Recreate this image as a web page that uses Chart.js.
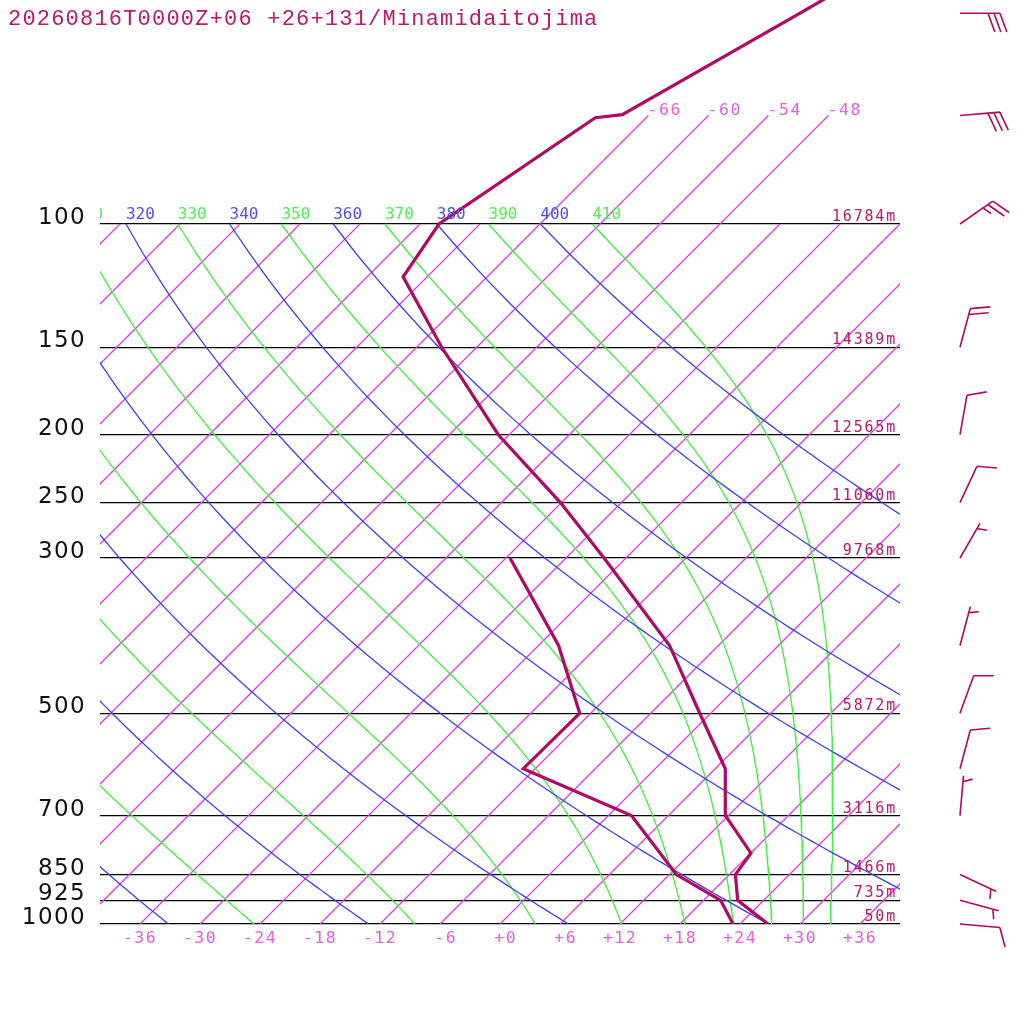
<!DOCTYPE html>
<html>
<head>
<meta charset="utf-8">
<script src="https://cdn.jsdelivr.net/npm/chart.js@4.4.1/dist/chart.umd.min.js"></script>
<style>
  html, body { margin: 0; padding: 0; background: #fff; }
  canvas { display: block; }
</style>
</head>
<body>
<canvas id="skewt" width="1024" height="1024"></canvas>
<script>
// sounding (hPa, degC)
const tempPres = [1000, 925, 850, 792, 700, 600, 500, 400, 300, 250, 200, 150, 119, 100, 70.5, 69.8, 50, 40];
const tempC    = [26.8, 21.4, 18.6, 18.0, 11.7, 7.0, -1.1, -10.9, -26.2, -36.1, -49.1, -63.5, -74.4, -76.1, -71.1, -68.7, -61.1, -56.1];
const dewPres  = [1000, 925, 850, 700, 600, 500, 400, 300];
const dewC     = [23.3, 19.7, 12.7, 2.3, -13.2, -13.1, -22.0, -35.6];

// standard levels and their heights
const levelPres   = [100, 150, 200, 250, 300, 500, 700, 850, 925, 1000];
const levelHeight = ['16784m', '14389m', '12565m', '11060m', '9768m', '5872m', '3116m', '1466m', '735m', '50m'];

// winds (direction deg, speed kt)
const windPres = [1000, 925, 850, 700, 600, 500, 400, 300, 250, 200, 150, 100, 70, 50];
const windDir  = [95, 105, 115, 5, 15, 20, 15, 30, 25, 10, 15, 55, 85, 90];
const windKt   = [10, 5, 5, 5, 10, 10, 5, 5, 10, 10, 20, 25, 30, 30];

// axis / background line labels
const xTicks = [-36, -30, -24, -18, -12, -6, 0, 6, 12, 18, 24, 30, 36];
const isoTemps = [-108, -102, -96, -90, -84, -78, -72, -66, -60, -54, -48, -42, -36, -30, -24, -18, -12, -6, 0, 6, 12, 18, 24, 30, 36];
const isoTop = [-66, -60, -54, -48];
const dryTheta = [240, 260, 280, 300, 320, 340, 360, 380, 400];
const moistTheta = [250, 270, 290, 310, 330, 350, 370, 390, 410];

const title = '20260816T0000Z+06 +26+131/Minamidaitojima';

const SKEW = 70;               // degC per decade of pressure
const PTOP = 1000 / Math.pow(10, 924 / 700);
const KAPPA = 0.2857;

const profColor = '#b00864';
const isoColor = '#e040e0';
const dryColor = '#4040f0';
const moistColor = '#40f040';

function skewX(t, p) {
  return t + SKEW * Math.log10(1000 / p);
}

function isotherm(t) {
  let top = isoTop.includes(t) ? 70 : 100;
  return [{x: skewX(t, 1000), y: 1000}, {x: skewX(t, top), y: top}];
}

function dryAdiabat(theta) {
  let pts = [];
  for (let p = 100; p <= 1000; p += 10) {
    let t = theta * Math.pow(p / 1000, KAPPA) - 273.15;
    pts.push({x: skewX(t, p), y: p});
  }
  return pts;
}

// pseudo-adiabat, started at 100 hPa and followed down
function moistAdiabat(theta) {
  const Rd = 287.04, cp = 1005.7, L = 2.501e6, eps = 0.622;
  let f = function(T, p) {
    let tc = T - 273.15;
    let es = 6.112 * Math.exp(17.67 * tc / (tc + 243.5));
    let rs = eps * es / (p - es);
    return ((Rd * T + L * rs) / p) / (cp + L * L * rs * eps / (Rd * T * T));
  };
  let T = theta * Math.pow(0.1, KAPPA);
  let pts = [];
  let h = 2;
  for (let p = 100; p <= 1000; p += h) {
    if (p % 10 === 0) pts.push({x: skewX(T - 273.15, p), y: p});
    let k1 = f(T, p);
    let k2 = f(T + h / 2 * k1, p + h / 2);
    let k3 = f(T + h / 2 * k2, p + h / 2);
    let k4 = f(T + h * k3, p + h);
    T += h / 6 * (k1 + 2 * k2 + 2 * k3 + k4);
  }
  return pts;
}

function line(data, color, width, order) {
  return {
    data: data, showLine: true,
    borderColor: color, backgroundColor: color,
    borderWidth: width, pointRadius: 0, fill: false, tension: 0, order: order, borderJoinStyle: 'miter'
  };
}

let datasets = [];
datasets.push(line(tempPres.map((p, i) => ({x: skewX(tempC[i], p), y: p})), profColor, 3.2, 0));
datasets.push(line(dewPres.map((p, i) => ({x: skewX(dewC[i], p), y: p})), profColor, 3.2, 0));
dryTheta.forEach(th => datasets.push(line(dryAdiabat(th), dryColor, 1.3, 10)));
moistTheta.forEach(th => datasets.push(line(moistAdiabat(th), moistColor, 1.3, 10)));
isoTemps.forEach(t => datasets.push(line(isotherm(t), isoColor, 1.3, 20)));

let skewPlugin = {
  id: 'skewt',
  beforeDraw(chart) {
    chart.ctx.letterSpacing = '1.4px';
  },
  afterDatasetsDraw(chart) {
    let ctx = chart.ctx, area = chart.chartArea;
    let xs = chart.scales.x, ys = chart.scales.y;
    ctx.save();
    ctx.textBaseline = 'alphabetic';

    // heights on the right of each level
    ctx.font = '15px "DejaVu Sans Mono"';
    ctx.letterSpacing = '1.8px';
    ctx.fillStyle = 'rgb(184,24,112)';
    ctx.textAlign = 'right';
    levelPres.forEach((p, i) => {
      ctx.fillText(levelHeight[i], 897, ys.getPixelForValue(p) - 3);
    });

    // isotherm labels above 100 hPa
    ctx.font = '16.5px "DejaVu Sans Mono"';
    ctx.letterSpacing = '1.6px';
    ctx.fillStyle = 'rgb(226,96,226)';
    ctx.textAlign = 'left';
    isoTop.forEach(t => {
      let px = xs.getPixelForValue(skewX(t, 70));
      let py = ys.getPixelForValue(70);
      ctx.fillText(String(t), px - 1, py - 1);
    });

    // theta labels along 100 hPa
    ctx.beginPath();
    ctx.rect(area.left, 0, area.right - area.left, area.bottom);
    ctx.clip();
    ctx.font = '16px "DejaVu Sans Mono"';
    ctx.letterSpacing = '0px';
    let y100 = ys.getPixelForValue(100) - 5;
    dryTheta.concat(moistTheta).forEach(th => {
      let t = th * Math.pow(0.1, KAPPA) - 273.15;
      ctx.fillStyle = dryTheta.includes(th) ? 'rgb(80,80,240)' : 'rgb(80,240,80)';
      ctx.fillText(String(th), xs.getPixelForValue(skewX(t, 100)), y100);
    });
    ctx.restore();
  },
  afterDraw(chart) {
    let ctx = chart.ctx, ys = chart.scales.y;
    ctx.save();
    // title
    ctx.font = '22px "Liberation Mono"';
    ctx.letterSpacing = '1.2px';
    ctx.fillStyle = 'rgb(184,24,112)';
    ctx.textAlign = 'left';
    ctx.textBaseline = 'alphabetic';
    ctx.fillText(title, 8, 25);

    // wind barbs
    ctx.letterSpacing = '0px';
    ctx.strokeStyle = profColor;
    ctx.lineWidth = 1.6;
    ctx.lineCap = 'butt';
    windPres.forEach((p, i) => {
      let bx = 960, by = ys.getPixelForValue(p);
      let a = (windDir[i] - 90) * Math.PI / 180;   // screen angle of the staff
      let ux = Math.cos(a), uy = Math.sin(a);
      let fa = a + 70 * Math.PI / 180;
      let fx = Math.cos(fa), fy = Math.sin(fa);
      let len = 40;
      ctx.beginPath();
      ctx.moveTo(bx, by);
      ctx.lineTo(bx + ux * len, by + uy * len);
      let spd = windKt[i];
      let d = len;
      let full = Math.floor(spd / 10), half = (spd % 10) >= 5 ? 1 : 0;
      if (full === 0 && half) d = len - 6;
      for (let k = 0; k < full; k++) {
        let sx = bx + ux * d, sy = by + uy * d;
        ctx.moveTo(sx, sy);
        ctx.lineTo(sx + fx * 20, sy + fy * 20);
        d -= 6;
      }
      if (half) {
        let sx = bx + ux * d, sy = by + uy * d;
        ctx.moveTo(sx, sy);
        ctx.lineTo(sx + fx * 10, sy + fy * 10);
      }
      ctx.stroke();
    });
    ctx.restore();
  }
};

new Chart(document.getElementById('skewt'), {
  type: 'scatter',
  data: { datasets: datasets },
  options: {
    responsive: false,
    animation: false,
    devicePixelRatio: 1,
    layout: { padding: { left: 0, right: 124, top: 0, bottom: 0 } },
    plugins: { legend: { display: false }, tooltip: { enabled: false } },
    scales: {
      x: {
        type: 'linear', min: -40, max: 40,
        grid: { display: false },
        border: { display: false },
        afterBuildTicks: s => { s.ticks = xTicks.map(v => ({value: v})); },
        afterFit: s => { s.height = 100; s.paddingLeft = 0; s.paddingRight = 0; },
        ticks: {
          autoSkip: false, maxRotation: 0, padding: -3,
          color: 'rgb(226,96,226)',
          font: { family: 'DejaVu Sans Mono', size: 16.5 },
          callback: v => (v > 0 ? '+' + v : v === 0 ? '+0' : String(v)).padStart(3, ' ')
        }
      },
      y: {
        type: 'logarithmic', reverse: true, min: PTOP, max: 1000,
        border: { display: false },
        grid: { color: '#000', lineWidth: 1.3, drawTicks: false },
        afterBuildTicks: s => { s.ticks = levelPres.map(v => ({value: v})); },
        afterFit: s => { s.width = 100; s.paddingTop = 0; s.paddingBottom = 0; },
        ticks: {
          autoSkip: false, padding: 14, labelOffset: -6,
          color: '#111',
          font: { family: 'DejaVu Sans', size: 23 },
          callback: v => String(v)
        }
      }
    }
  },
  plugins: [skewPlugin]
});
</script>
</body>
</html>
